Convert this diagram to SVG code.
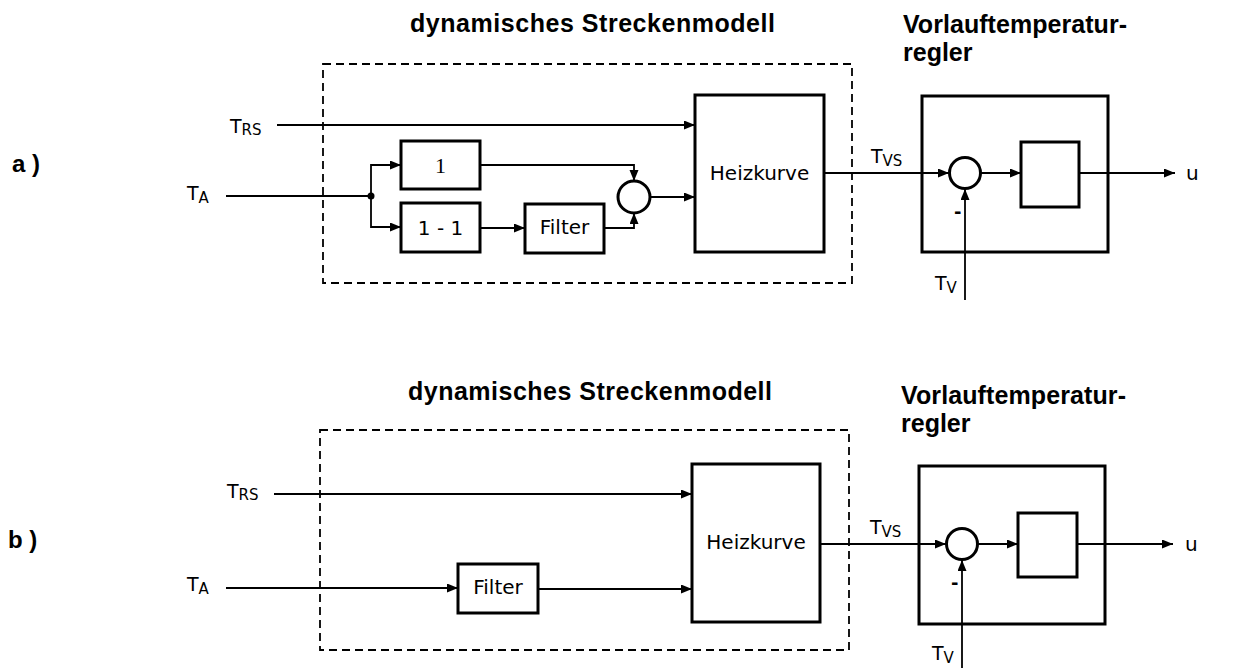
<svg xmlns="http://www.w3.org/2000/svg" width="1252" height="668" viewBox="0 0 1252 668">
<defs>
<marker id="arr" markerUnits="userSpaceOnUse" markerWidth="12" markerHeight="10" refX="11" refY="4.5" orient="auto">
<path d="M0,0 L11,4.5 L0,9 z" fill="#000"/>
</marker>
<style>
.box{fill:none;stroke:#000;stroke-width:3}
.dash{fill:none;stroke:#000;stroke-width:1.8;stroke-dasharray:8,5}
.ln{fill:none;stroke:#000;stroke-width:1.8}
.ar{fill:none;stroke:#000;stroke-width:1.8;marker-end:url(#arr)}
.sum{fill:none;stroke:#000;stroke-width:3}
.t{font-family:"DejaVu Sans",sans-serif;font-size:20px;fill:#000}
.title{font-family:"Liberation Sans",Arial,sans-serif;font-weight:bold;font-size:25px;fill:#000}
.lab{font-family:"Liberation Sans",Arial,sans-serif;font-weight:bold;font-size:24px;fill:#000}
.sym{font-family:"DejaVu Sans",sans-serif;font-size:19px;fill:#000}
.sub{font-size:15px}
.mi{font-family:"DejaVu Sans",sans-serif;font-size:18px;font-weight:bold;fill:#000}
</style>
</defs>
<rect width="1252" height="668" fill="#fff"/>

<!-- ===== Part a ===== -->
<g id="label-a"><text class="lab" x="12" y="172">a )</text></g>
<g id="title-a1"><text class="title" x="410" y="32" textLength="365" lengthAdjust="spacing">dynamisches  Streckenmodell</text></g>
<g id="title-a2"><text class="title" x="903" y="33" textLength="224" lengthAdjust="spacing">Vorlauftemperatur-</text><text class="title" x="903" y="61">regler</text></g>
<g id="model-a"><rect class="dash" x="323" y="64" width="529" height="219"/></g>
<g id="in-TRS-a"><text class="sym" x="230" y="133">T<tspan class="sub" dy="2">RS</tspan></text></g>
<g id="in-TA-a"><text class="sym" x="187" y="200">T<tspan class="sub" dy="3">A</tspan></text></g>
<g id="box-1-a"><rect class="box" x="401" y="141" width="79" height="48"/><text x="440.5" y="173" text-anchor="middle" font-family="Liberation Serif,serif" font-size="22">1</text></g>
<g id="box-11-a"><rect class="box" x="401" y="203" width="79" height="49"/><text class="t" x="440.5" y="235" text-anchor="middle">1 - 1</text></g>
<g id="filter-a"><rect class="box" x="525" y="204" width="79" height="49"/><text class="t" x="564.5" y="234" text-anchor="middle" font-size="21">Filter</text></g>
<g id="sum-small-a"><circle class="sum" cx="634" cy="197" r="16"/></g>
<g id="heiz-a"><rect class="box" x="695" y="95" width="129" height="157"/><text class="t" x="759.5" y="180" text-anchor="middle">Heizkurve</text></g>
<g id="ctrl-a"><rect class="box" x="922" y="96" width="186" height="156"/></g>
<g id="sum-a"><circle class="sum" cx="965" cy="173" r="15.5"/></g>
<g id="inner-a"><rect class="box" x="1021" y="142" width="58" height="65"/></g>
<g id="TVS-a"><text class="sym" x="871" y="163">T<tspan class="sub" dy="3">VS</tspan></text></g>
<g id="TV-a"><text class="sym" x="935" y="290">T<tspan class="sub" dy="3">V</tspan></text></g>
<g id="minus-a"><text class="mi" x="954" y="218">-</text></g>
<g id="u-a"><text class="t" x="1186" y="180">u</text></g>

<!-- ===== Part b ===== -->
<g id="label-b"><text class="lab" x="8" y="548">b )</text></g>
<g id="title-b1"><text class="title" x="408" y="400" textLength="364" lengthAdjust="spacing">dynamisches  Streckenmodell</text></g>
<g id="title-b2"><text class="title" x="901" y="404" textLength="225" lengthAdjust="spacing">Vorlauftemperatur-</text><text class="title" x="901" y="432">regler</text></g>
<g id="model-b"><rect class="dash" x="320" y="430" width="529" height="220"/></g>
<g id="in-TRS-b"><text class="sym" x="227" y="498">T<tspan class="sub" dy="2">RS</tspan></text></g>
<g id="in-TA-b"><text class="sym" x="187" y="591">T<tspan class="sub" dy="3">A</tspan></text></g>
<g id="filter-b"><rect class="box" x="458" y="564" width="80" height="49"/><text class="t" x="498" y="594" text-anchor="middle" font-size="21">Filter</text></g>
<g id="heiz-b"><rect class="box" x="692" y="464" width="128" height="158"/><text class="t" x="756" y="549" text-anchor="middle">Heizkurve</text></g>
<g id="ctrl-b"><rect class="box" x="919" y="466" width="186" height="158"/></g>
<g id="sum-b"><circle class="sum" cx="962" cy="544" r="15.5"/></g>
<g id="inner-b"><rect class="box" x="1018" y="513" width="59" height="64"/></g>
<g id="TVS-b"><text class="sym" x="870" y="534">T<tspan class="sub" dy="3">VS</tspan></text></g>
<g id="TV-b"><text class="sym" x="932" y="660">T<tspan class="sub" dy="3">V</tspan></text></g>
<g id="minus-b"><text class="mi" x="951" y="589">-</text></g>
<g id="u-b"><text class="t" x="1185" y="551">u</text></g>

<!-- ===== Connectors ===== -->
<g id="connectors">
<line class="ar" x1="277" y1="125" x2="695" y2="125"/>
<line class="ln" x1="226" y1="196" x2="371" y2="196"/>
<polyline class="ar" points="371,196 371,165 401,165"/>
<polyline class="ar" points="371,196 371,227 401,227"/>
<line class="ar" x1="480" y1="228" x2="525" y2="228"/>
<polyline class="ar" points="480,165 634,165 634,181"/>
<polyline class="ar" points="604,228 634,228 634,213"/>
<line class="ar" x1="650" y1="197" x2="695" y2="197"/>
<line class="ar" x1="824" y1="173" x2="949" y2="173"/>
<line class="ar" x1="980" y1="173" x2="1021" y2="173"/>
<line class="ar" x1="1079" y1="173" x2="1175" y2="173"/>
<line class="ar" x1="965" y1="300" x2="965" y2="189"/>
<circle cx="371" cy="196" r="3.5" fill="#000"/>
<line class="ar" x1="274" y1="494" x2="692" y2="494"/>
<line class="ar" x1="226" y1="588" x2="458" y2="588"/>
<line class="ar" x1="538" y1="589" x2="692" y2="589"/>
<line class="ar" x1="820" y1="544" x2="946" y2="544"/>
<line class="ar" x1="977" y1="544" x2="1018" y2="544"/>
<line class="ar" x1="1077" y1="544" x2="1173" y2="544"/>
<line class="ar" x1="962" y1="668" x2="962" y2="560"/>
</g>
</svg>
